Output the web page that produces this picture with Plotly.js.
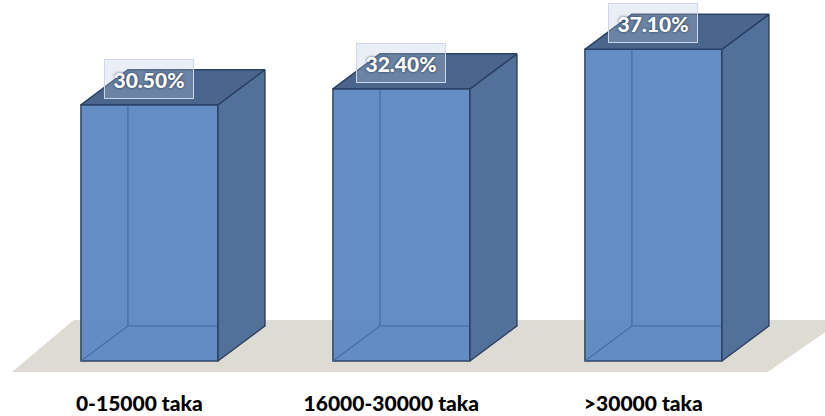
<!DOCTYPE html>
<html>
<head>
<meta charset="utf-8">
<script src="https://cdn.plot.ly/plotly-3.0.1.min.js"></script>
<style>html,body{margin:0;padding:0;background:#fff;}#chart{width:825px;height:416px;}</style>
</head>
<body>
<div id="chart"></div>
<script>
// Data
const categories = ['0-15000 taka', '16000-30000 taka', '>30000 taka'];
const values = [30.5, 32.4, 37.1];
const valueLabels = ['30.50%', '32.40%', '37.10%'];

// 3D look parameters (in axis units)
const barW = 0.5437;
const depthX = 0.1865;
const depthY = 4.17;

const frontColor = 'rgb(94,138,194)';
const sideColor = 'rgb(82,113,153)';
const topColor = 'rgb(74,102,140)';
const edgeColor = 'rgb(44,66,100)';
const hiddenColor = 'rgba(66,108,165,0.9)';

const xs = categories.map((c, i) => i);
const traces = [];

// hidden (see-through) edges
xs.forEach((x, i) => {
  const L = x - barW / 2, R = x + barW / 2, v = values[i];
  traces.push({
    type: 'scatter', mode: 'lines', hoverinfo: 'skip', showlegend: false,
    x: [L + depthX, L + depthX, null, L + depthX, R + depthX, null, L, L + depthX],
    y: [depthY, v + depthY, null, depthY, depthY, null, 0, depthY],
    line: {color: hiddenColor, width: 1.3}
  });
});

// front faces
traces.push({
  type: 'bar', x: xs, y: values, width: barW, showlegend: false,
  marker: {color: frontColor, opacity: 0.97, line: {color: edgeColor, width: 1.5}},
  hoverinfo: 'y'
});

// side and top faces
xs.forEach((x, i) => {
  const L = x - barW / 2, R = x + barW / 2, v = values[i];
  traces.push({
    type: 'scatter', mode: 'lines', fill: 'toself', fillcolor: sideColor,
    hoverinfo: 'skip', showlegend: false,
    x: [R, R + depthX, R + depthX, R, R],
    y: [0, depthY, v + depthY, v, 0],
    line: {color: edgeColor, width: 1.5}
  });
  traces.push({
    type: 'scatter', mode: 'lines', fill: 'toself', fillcolor: topColor,
    hoverinfo: 'skip', showlegend: false,
    x: [L, L + depthX, R + depthX, R, L],
    y: [v, v + depthY, v + depthY, v, v],
    line: {color: edgeColor, width: 1.5}
  });
});

const annotations = xs.map((x, i) => ({
  x: x, y: values[i] + 3.1, xref: 'x', yref: 'y',
  text: valueLabels[i], showarrow: false,
  font: {family: 'Lato, sans-serif', size: 21, color: '#ffffff', weight: 900,
         shadow: '0px 0px 3px rgba(20,30,50,0.8)'},
  bgcolor: 'rgba(185,202,228,0.3)', bordercolor: 'rgb(205,215,232)',
  borderwidth: 1, borderpad: 2, width: 84, height: 34
}));

const layout = {
  width: 825, height: 416,
  margin: {l: 0, r: 0, t: 0, b: 35},
  paper_bgcolor: '#ffffff', plot_bgcolor: 'rgba(0,0,0,0)',
  showlegend: false,
  xaxis: {
    range: [-0.593, 2.681], showgrid: false, zeroline: false, showline: false,
    tickmode: 'array', tickvals: xs.map(x => x - 0.04), ticktext: categories,
    ticks: '', ticklabelstandoff: 8,
    tickfont: {family: 'Lato, sans-serif', size: 21, color: '#000000', weight: 900}
  },
  yaxis: {
    range: [-2.381, 42.976], showgrid: false, zeroline: false, showline: false,
    showticklabels: false, ticks: ''
  },
  shapes: [{
    type: 'path', xref: 'x', yref: 'y', layer: 'below',
    path: 'M -0.546,-1.31 L -0.300,4.88 L 2.75,4.88 L 2.454,-1.31 Z',
    fillcolor: 'rgb(222,219,210)', line: {width: 0}
  }],
  annotations: annotations
};

Plotly.newPlot('chart', traces, layout, {displayModeBar: false, staticPlot: true});
</script>
</body>
</html>
